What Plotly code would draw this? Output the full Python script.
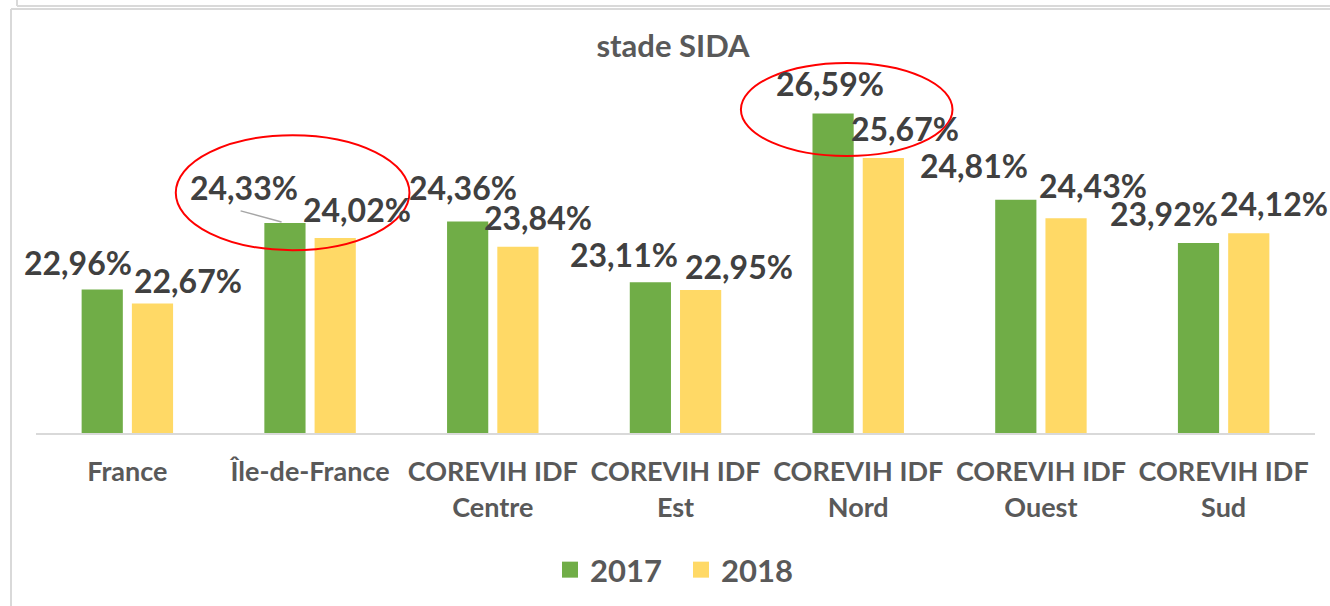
import plotly.graph_objects as go

categories = ["France", "Île-de-France", "COREVIH IDF<br>Centre", "COREVIH IDF<br>Est",
              "COREVIH IDF<br>Nord", "COREVIH IDF<br>Ouest", "COREVIH IDF<br>Sud"]
years = ["2017", "2018"]
values_2017 = [22.96, 24.33, 24.36, 23.11, 26.59, 24.81, 23.92]
values_2018 = [22.67, 24.02, 23.84, 22.95, 25.67, 24.43, 24.12]
title_text = "stade SIDA"

# styling
W, H = 1330, 606
ML, MR, MT, MB = 36, 15, 45, 173
GREEN = "#70AD47"
YELLOW = "#FFD966"
LABEL_COLOR = "#404040"
TEXT_GRAY = "#595959"
FONT = "Lato"
BAR_OFFSET = 25  # px offset of each bar centre from category centre

# label offsets (px) relative to bar centre/top, as in the reference
dx17 = [-24, -41, -5, -27, -3, -42, -35]
dy17 = [27, 36, 34, 28, 30, 34, 29]
dx18 = [36, 22, 20, 38, 22, 27, 25]
dy18 = [23, 29, 29, 23, 30, 33, 30]

def fmt(v):
    return f"{v:.2f}".replace(".", ",") + "%"

fig = go.Figure()
fig.add_trace(go.Bar(name=years[0], x=categories, y=values_2017, marker_color=GREEN,
                     marker_line_width=0, showlegend=False))
fig.add_trace(go.Bar(name=years[1], x=categories, y=values_2018, marker_color=YELLOW,
                     marker_line_width=0, showlegend=False))
# legend entries with larger square swatches
for name, col in zip(years, [GREEN, YELLOW]):
    fig.add_trace(go.Scatter(name=name, x=[None], y=[None], mode="markers",
                             marker=dict(symbol="square", size=16, color=col), showlegend=True))

label_font = dict(family=FONT, size=32, color=LABEL_COLOR, weight="bold")
annotations = []
for cat, v, dx, dy in zip(categories, values_2017, dx17, dy17):
    annotations.append(dict(x=cat, y=v, xref="x", yref="y", text=fmt(v), showarrow=False,
                            xshift=-BAR_OFFSET + dx, yshift=dy, yanchor="middle", font=label_font))
for cat, v, dx, dy in zip(categories, values_2018, dx18, dy18):
    annotations.append(dict(x=cat, y=v, xref="x", yref="y", text=fmt(v), showarrow=False,
                            xshift=BAR_OFFSET + dx, yshift=dy, yanchor="middle", font=label_font))

plot_w = W - ML - MR
plot_h = H - MT - MB

def px(xp):
    return (xp - ML) / plot_w

def py(yp):
    return (H - MB - yp) / plot_h

shapes = []
# chart frame lines (light grey)
frame = "#d9d9d9"
shapes.append(dict(type="line", xref="paper", yref="paper", x0=px(11), x1=px(11), y0=py(9), y1=py(606),
                   line=dict(color=frame, width=2)))
shapes.append(dict(type="line", xref="paper", yref="paper", x0=px(11), x1=px(1330), y0=py(9), y1=py(9),
                   line=dict(color=frame, width=2)))
shapes.append(dict(type="line", xref="paper", yref="paper", x0=px(17), x1=px(17), y0=py(0), y1=py(6),
                   line=dict(color=frame, width=2)))
shapes.append(dict(type="line", xref="paper", yref="paper", x0=px(17), x1=px(1330), y0=py(6), y1=py(6),
                   line=dict(color=frame, width=2)))
# red ellipses highlighting values
shapes.append(dict(type="circle", xref="x", yref="y", x0=0.265, x1=1.544, y0=23.77, y1=26.14,
                   line=dict(color="#FF0000", width=2)))
shapes.append(dict(type="circle", xref="x", yref="y", x0=3.358, x1=4.516, y0=25.71, y1=27.63,
                   line=dict(color="#FF0000", width=2)))
# leader line for Île-de-France 2017 label
shapes.append(dict(type="line", xref="x", yref="y", x0=0.62, x1=0.844, y0=24.58, y1=24.35,
                   line=dict(color="#A6A6A6", width=1.5)))

fig.update_layout(
    width=W, height=H,
    margin=dict(l=ML, r=MR, t=MT, b=MB, autoexpand=False),
    paper_bgcolor="white", plot_bgcolor="white",
    barmode="group", bargap=0.45, bargroupgap=0.18,
    title=dict(text=title_text, x=673 / W, xanchor="center", y=1 - 46 / H, yanchor="middle",
               font=dict(family=FONT, size=31, color=TEXT_GRAY, weight="bold")),
    xaxis=dict(range=[-0.5, 6.5], autorange=False, showline=True, linecolor="#d9d9d9", linewidth=2,
               ticks="outside", ticklen=14, tickcolor="rgba(0,0,0,0)", showgrid=False,
               tickfont=dict(family=FONT, size=27, color=TEXT_GRAY, weight="bold")),
    yaxis=dict(range=[20, 28], autorange=False, visible=False, showgrid=False, zeroline=False),
    legend=dict(orientation="h", x=px(681), xanchor="center", y=py(570), yanchor="middle",
                font=dict(family=FONT, size=31, color=TEXT_GRAY, weight="bold"),
                traceorder="normal", itemsizing="trace", entrywidth=86, entrywidthmode="pixels"),
    annotations=annotations,
    shapes=shapes,
    showlegend=True,
)

fig.write_html("out.html", config={"displayModeBar": False},
               post_script="document.body.style.margin='0';")
